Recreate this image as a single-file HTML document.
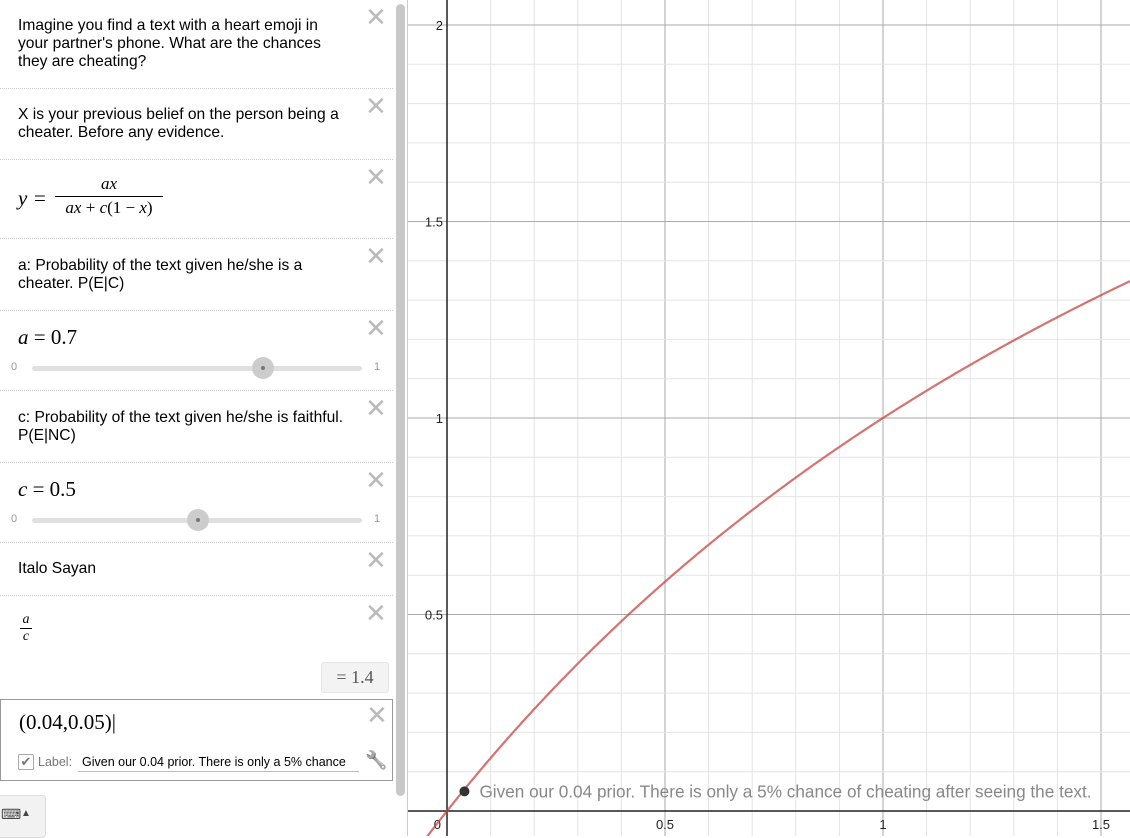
<!DOCTYPE html>
<html><head><meta charset="utf-8"><style>
body{margin:0;width:1130px;height:836px;overflow:hidden;background:#fff;font-family:"Liberation Sans",sans-serif;position:relative}
.panel{position:absolute;left:0;top:0;width:394px;height:836px;background:#fff}
.row{position:absolute;left:0;width:393px;border-bottom:1px dotted #ccc;box-sizing:border-box}
.txt{position:absolute;left:18px;font-size:15.6px;line-height:18px;color:#000;white-space:nowrap}
.x{position:absolute;left:365px;font-size:26px;color:#bbb;line-height:20px;font-family:"DejaVu Sans",sans-serif}
.math{position:absolute;left:18px;font-family:"Liberation Serif",serif;font-size:21px}
.sl{position:absolute;left:32px;width:330px;height:5px;background:#e0e0e0;border-radius:3px}
.knob{position:absolute;width:22px;height:22px;border-radius:50%;background:#ccc}
.knob::after{content:"";position:absolute;left:9px;top:9px;width:4px;height:4px;border-radius:50%;background:#777}
.lim{position:absolute;font-size:11px;color:#999}
</style></head><body>
<div class="panel">
<div class="row" style="top:0;height:89px"><div class="txt" style="top:17px">Imagine you find a text with a heart emoji in<br>your partner's phone. What are the chances<br>they are cheating?</div><div class="x" style="top:8px">✕</div></div>
<div class="row" style="top:89px;height:71px"><div class="txt" style="top:17px">X is your previous belief on the person being a<br>cheater. Before any evidence.</div><div class="x" style="top:8px">✕</div></div>
<div class="row" style="top:160px;height:79px">
<div class="math" style="top:26px;font-style:italic">y =</div>
<div style="position:absolute;left:55px;top:14px;width:108px;text-align:center;font-family:'Liberation Serif',serif;font-size:17px"><i>ax</i><div style="border-top:1px solid #000;margin-top:2px;padding-top:1px"><i>ax</i> + <i>c</i>(1 − <i>x</i>)</div></div>
<div class="x" style="top:8px">✕</div></div>
<div class="row" style="top:239px;height:72px"><div class="txt" style="top:18px">a: Probability of the text given he/she is a<br>cheater. P(E|C)</div><div class="x" style="top:8px">✕</div></div>
<div class="row" style="top:311px;height:80px"><div class="math" style="top:14px"><i>a</i> = 0.7</div><div class="lim" style="left:11px;top:50px">0</div><div class="lim" style="left:374px;top:50px">1</div><div class="sl" style="top:55px"></div><div class="knob" style="left:252px;top:46px"></div><div class="x" style="top:8px">✕</div></div>
<div class="row" style="top:391px;height:72px"><div class="txt" style="top:18px">c: Probability of the text given he/she is faithful.<br>P(E|NC)</div><div class="x" style="top:8px">✕</div></div>
<div class="row" style="top:463px;height:80px"><div class="math" style="top:14px"><i>c</i> = 0.5</div><div class="lim" style="left:11px;top:50px">0</div><div class="lim" style="left:374px;top:50px">1</div><div class="sl" style="top:55px"></div><div class="knob" style="left:187px;top:46px"></div><div class="x" style="top:8px">✕</div></div>
<div class="row" style="top:543px;height:53px"><div class="txt" style="top:17px">Italo Sayan</div><div class="x" style="top:8px">✕</div></div>
<div class="row" style="top:596px;height:103px;border-bottom:none">
<div style="position:absolute;left:20px;top:16px;font-family:'Liberation Serif',serif;font-size:14px;font-style:italic;text-align:center;width:12px">a<div style="border-top:1px solid #000">c</div></div>
<div style="position:absolute;left:321px;top:66px;width:66px;height:29px;background:#f3f3f3;border:1px solid #e6e6e6;border-radius:3px;font-family:'Liberation Serif',serif;font-size:18px;color:#555;text-align:center;line-height:29px">= 1.4</div>
<div class="x" style="top:8px">✕</div></div>
<div style="position:absolute;left:0;top:699px;width:393px;height:82px;border:1px solid #999;box-sizing:border-box">
<div class="math" style="top:10px;left:18px">(0.04,0.05)|</div>
<div style="position:absolute;left:17px;top:54px;width:14px;height:14px;border:1px solid #aaa;border-radius:2px;color:#777;font-size:13px;line-height:14px;text-align:center">✔</div>
<div style="position:absolute;left:37px;top:55px;font-size:12.5px;color:#777">Label:</div>
<div style="position:absolute;left:77px;top:55px;width:277px;border-bottom:1px solid #bbb;font-size:12.5px;padding-left:4px;padding-bottom:2px;white-space:nowrap;overflow:hidden">Given our 0.04 prior. There is only a 5% chance</div>
<div style="position:absolute;left:364px;top:50px;font-size:18px;color:#999;filter:grayscale(1)">🔧</div>
<div class="x" style="top:6px">✕</div></div>
<div style="position:absolute;left:-4px;top:795px;width:48px;height:41px;background:#f2f2f2;border:1px solid #ddd;border-radius:4px"><span style="position:absolute;left:4px;top:10px;font-size:14px;color:#444">⌨</span><span style="position:absolute;left:24px;top:12px;font-size:10px;color:#444">▲</span></div>
</div>
<div style="position:absolute;left:396px;top:4px;width:9px;height:792px;background:#c8c8c8;border-radius:5px"></div>
<div style="position:absolute;left:407px;top:0;width:1px;height:836px;background:#ccc"></div>
<svg id="g" style="position:absolute;left:0;top:0" width="1130" height="836"></svg>
<script>
const xMajor=[0.5,1,1.5];
const yMajor=[0.5,1,1.5,2];
const aVal=0.7, cVal=0.5;
const pointXY=[0.04,0.05];
const pointLabel="Given our 0.04 prior. There is only a 5% chance of cheating after seeing the text.";
const X0=447,XS=436,Y0=811,YS=393,L=408;
const sx=v=>X0+v*XS, sy=v=>Y0-v*YS;
const g=document.getElementById('g');const NS='http://www.w3.org/2000/svg';
function mk(t,a){const e=document.createElementNS(NS,t);for(const k in a)e.setAttribute(k,a[k]);g.appendChild(e);return e;}
for(let i=-9;i<=16;i++){const v=i/10;const x=sx(v);if(x<L)continue;const maj=i%5===0;
const l=mk('line',{x1:x,x2:x,y1:0,y2:836,stroke:maj?'#aaa':'#e4e4e4','stroke-width':1});

}
for(let i=-1;i<=21;i++){const v=i/10;const y=sy(v);const maj=i%5===0;
const l=mk('line',{x1:L,x2:1130,y1:y,y2:y,stroke:maj?'#aaa':'#e4e4e4','stroke-width':1});

}
let ax=mk('line',{x1:L,x2:1130,y1:Y0,y2:Y0,stroke:'#222','stroke-width':1.5});


ax=mk('line',{x1:X0,x2:X0,y1:0,y2:836,stroke:'#222','stroke-width':1.5});


xMajor.forEach(v=>{const t=mk('text',{x:sx(v),y:Y0+18,'text-anchor':'middle','font-size':13,fill:'#222','font-family':'Liberation Sans'});t.textContent=v;

});
let z=mk('text',{x:X0-6,y:Y0+18,'text-anchor':'end','font-size':13,fill:'#222','font-family':'Liberation Sans'});z.textContent='0';


yMajor.forEach(v=>{const t=mk('text',{x:X0-4,y:sy(v)+5,'text-anchor':'end','font-size':13,fill:'#222','font-family':'Liberation Sans'});t.textContent=v;

});
let d='';for(let px=L;px<=1130;px+=2){const x=(px-X0)/XS;const den=aVal*x+cVal*(1-x);if(Math.abs(den)<1e-6)continue;const y=aVal*x/den;const py=sy(y);if(py<-50||py>900){continue;}d+=(d?'L':'M')+px+' '+py.toFixed(1);}
const c=mk('path',{d:d,fill:'none',stroke:'#c74440','stroke-opacity':0.75,'stroke-width':2.2});


const p=mk('circle',{cx:sx(pointXY[0]),cy:sy(pointXY[1]),r:5,fill:'#333'});


const pl=mk('text',{x:sx(pointXY[0])+15,y:sy(pointXY[1])+6,'font-size':17.2,fill:'#888','font-family':'Liberation Sans'});pl.textContent=pointLabel;


</script>
</body></html>
